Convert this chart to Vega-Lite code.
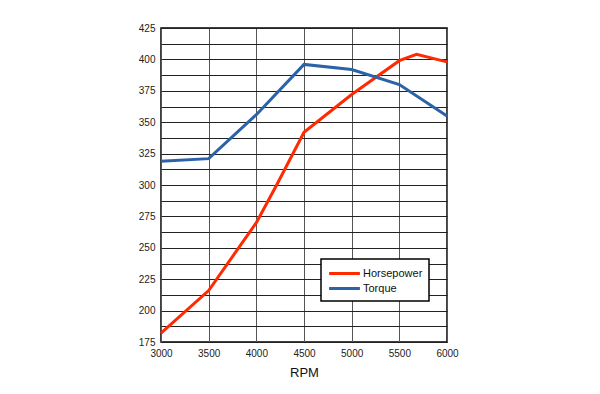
{
  "$schema": "https://vega.github.io/schema/vega-lite/v6.json",
  "autosize": "none",
  "width": 286,
  "height": 314,
  "padding": {"left": 161, "top": 28, "right": 153, "bottom": 52},
  "background": "white",
  "config": {
    "view": {"stroke": "black", "strokeWidth": 1.5},
    "font": "Liberation Sans",
    "legend": {"strokeWidth": 1.5}
  },
  "data": {
    "values": [
      {"rpm": 3000, "series": "Horsepower", "value": 182},
      {"rpm": 3500, "series": "Horsepower", "value": 216},
      {"rpm": 4000, "series": "Horsepower", "value": 270},
      {"rpm": 4220, "series": "Horsepower", "value": 301},
      {"rpm": 4500, "series": "Horsepower", "value": 342},
      {"rpm": 5000, "series": "Horsepower", "value": 372},
      {"rpm": 5500, "series": "Horsepower", "value": 399},
      {"rpm": 5680, "series": "Horsepower", "value": 404},
      {"rpm": 6000, "series": "Horsepower", "value": 398},
      {"rpm": 3000, "series": "Torque", "value": 319},
      {"rpm": 3500, "series": "Torque", "value": 321},
      {"rpm": 4000, "series": "Torque", "value": 356},
      {"rpm": 4500, "series": "Torque", "value": 396},
      {"rpm": 5000, "series": "Torque", "value": 392},
      {"rpm": 5500, "series": "Torque", "value": 380},
      {"rpm": 6000, "series": "Torque", "value": 355}
    ]
  },
  "mark": {"type": "line", "strokeWidth": 3, "interpolate": "linear"},
  "encoding": {
    "x": {
      "field": "rpm",
      "type": "quantitative",
      "scale": {"domain": [3000, 6000], "nice": false, "zero": false},
      "axis": {
        "title": "RPM",
        "titleFontSize": 13,
        "titleFontWeight": "normal",
        "titleColor": "#111",
        "titlePadding": 8,
        "values": [3000, 3500, 4000, 4500, 5000, 5500, 6000],
        "format": "d",
        "labelFontSize": 10,
        "labelColor": "#222",
        "labelPadding": 6,
        "labelFlush": false,
        "ticks": false,
        "domain": false,
        "grid": true,
        "gridColor": "#555",
        "gridOpacity": 1,
        "gridWidth": 1
      }
    },
    "y": {
      "field": "value",
      "type": "quantitative",
      "scale": {"domain": [175, 425], "nice": false, "zero": false},
      "axis": {
        "title": null,
        "values": [175, 187.5, 200, 212.5, 225, 237.5, 250, 262.5, 275, 287.5, 300, 312.5, 325, 337.5, 350, 362.5, 375, 387.5, 400, 412.5, 425],
        "labelExpr": "datum.value % 25 == 0 ? datum.label : ''",
        "labelFontSize": 10,
        "labelColor": "#222",
        "labelPadding": 6,
        "labelFlush": false,
        "ticks": false,
        "domain": false,
        "grid": true,
        "gridColor": "#222",
        "gridOpacity": 1,
        "gridWidth": 1
      }
    },
    "color": {
      "field": "series",
      "type": "nominal",
      "scale": {"domain": ["Horsepower", "Torque"], "range": ["#FF2A00", "#2B62A8"]},
      "legend": {
        "title": null,
        "orient": "none",
        "legendX": 160,
        "legendY": 231,
        "strokeColor": "black",
        "fillColor": "white",
        "padding": 6,
        "symbolType": "M-2.2,0L2.2,0",
        "symbolStrokeWidth": 3,
        "symbolSize": 196,
        "symbolOffset": 9,
        "labelFontSize": 11,
        "labelColor": "#111",
        "labelOffset": 10,
        "rowPadding": 0
      }
    }
  }
}
